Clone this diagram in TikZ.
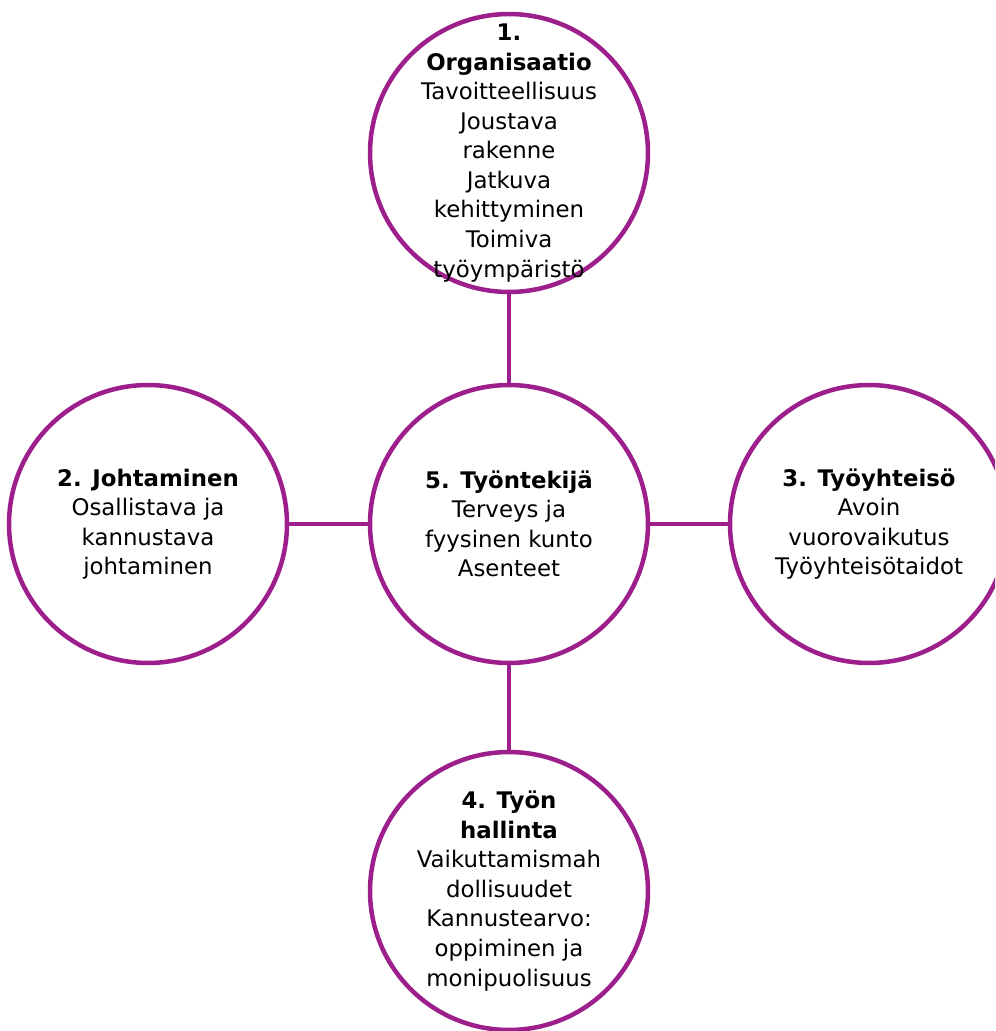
\documentclass[tikz,border=0pt]{standalone}
\usepackage{fontspec}
\setmainfont{DejaVu Sans}
\usetikzlibrary{positioning}
\definecolor{plum}{HTML}{9C1F8C}

\begin{document}
\begin{tikzpicture}[x=0.02cm,y=-0.02cm,
  font=\fontsize{13}{16.8}\selectfont,
  ring/.style={circle,draw=plum,line width=0.09cm,fill=white,minimum size=5.56cm,inner sep=0pt},
  ringtext/.style={align=center,inner sep=0pt},
  link/.style={plum,line width=0.09cm}]
  \clip (0,0) rectangle (995,1031);
  \fill[white] (0,0) rectangle (995,1031);

  % circles
  \node[ring] (tyontekija) at (509,524) {};
  \node[ring] (organisaatio) at (509,153) {};
  \node[ring] (johtaminen) at (148,524) {};
  \node[ring] (tyoyhteiso) at (869,524) {};
  \node[ring] (hallinta) at (509,891) {};

  % connectors
  \draw[link] (organisaatio) -- (tyontekija);
  \draw[link] (johtaminen) -- (tyontekija);
  \draw[link] (tyontekija) -- (tyoyhteiso);
  \draw[link] (tyontekija) -- (hallinta);

  % texts
  \node[ringtext] at (organisaatio) {\textbf{1.}\\\textbf{Organisaatio}\\Tavoitteellisuus\\Joustava\\rakenne\\Jatkuva\\kehittyminen\\Toimiva\\työympäristö};
  \node[ringtext] at (johtaminen) {\textbf{2. Johtaminen}\\Osallistava ja\\kannustava\\johtaminen};
  \node[ringtext] at (tyontekija) {\textbf{5. Työntekijä}\\Terveys ja\\fyysinen kunto\\Asenteet};
  \node[ringtext] at (tyoyhteiso) {\textbf{3. Työyhteisö}\\Avoin\\vuorovaikutus\\Työyhteisötaidot};
  \node[ringtext] at (hallinta) {\textbf{4. Työn}\\\textbf{hallinta}\\Vaikuttamismah\\dollisuudet\\Kannustearvo:\\oppiminen ja\\monipuolisuus};
\end{tikzpicture}
\end{document}
